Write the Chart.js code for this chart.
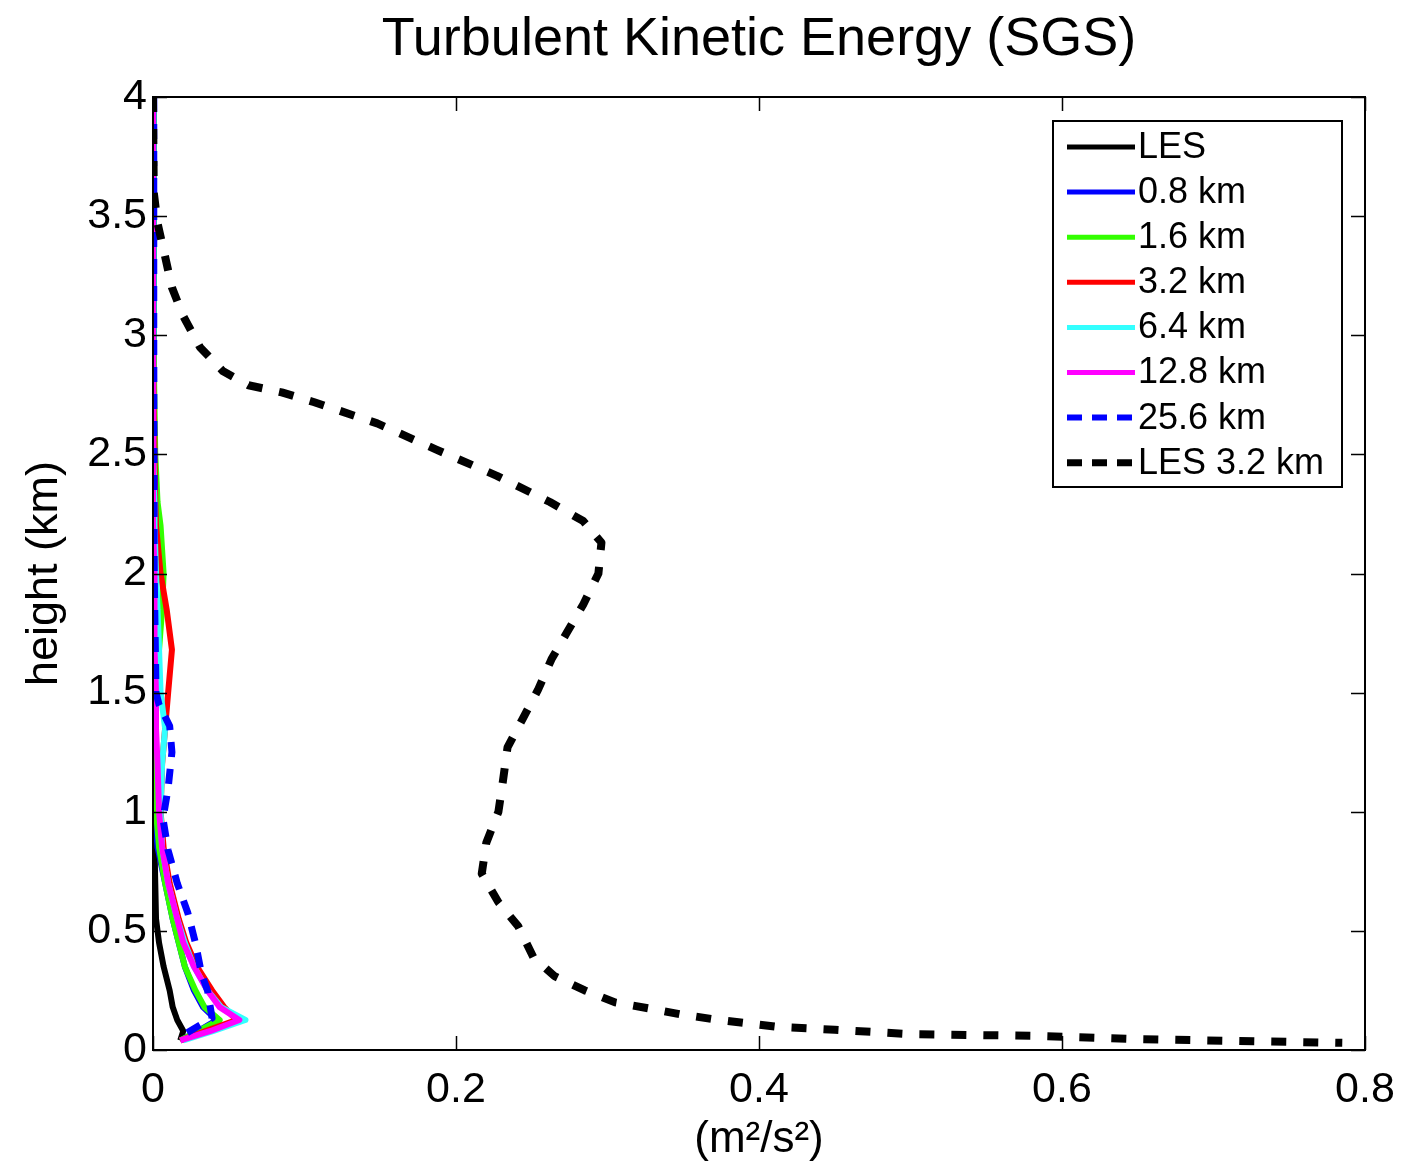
<!DOCTYPE html>
<html>
<head>
<meta charset="utf-8">
<title>Turbulent Kinetic Energy (SGS)</title>
<script src="https://cdn.jsdelivr.net/npm/chart.js@4.4.1/dist/chart.umd.min.js"></script>
<style>
  html, body { margin: 0; padding: 0; background: #fff; }
  #wrap { width: 1402px; height: 1172px; position: relative; }
</style>
</head>
<body>
<div id="wrap"><canvas id="tke-chart"></canvas></div>
<script>
// Heights (km) shared by the model runs
const modelHeights = [4.0, 3.5, 3.0, 2.5, 2.3, 2.2, 2.0, 1.85, 1.68, 1.5, 1.35, 1.2, 1.0, 0.85, 0.7, 0.55, 0.45, 0.35, 0.25, 0.18, 0.126, 0.08, 0.04];

// SGS TKE (m2/s2) at each of modelHeights
const les     = [0, 0, 0, 0, 0, 0, 0, 0, 0, 0, 0, 0, 0.0005, 0.001, 0.0015, 0.002, 0.004, 0.007, 0.011, 0.013, 0.016, 0.02, 0.018];
const km0_8   = [0.0005, 0.0005, 0.0005, 0.0005, 0.0005, 0.0005, 0.001, 0.001, 0.001, 0.001, 0.001, 0.001, 0.001, 0.003, 0.008, 0.013, 0.017, 0.021, 0.027, 0.033, 0.042, 0.03, 0.018];
const km1_6   = [0, 0, 0.0005, 0.0015, 0.003, 0.005, 0.007, 0.006, 0.004, 0.002, 0.001, 0.001, 0.002, 0.004, 0.008, 0.013, 0.017, 0.021, 0.028, 0.034, 0.044, 0.03, 0.018];
const km3_2   = [0, 0, 0, 0.001, 0.0015, 0.002, 0.005, 0.009, 0.0125, 0.010, 0.008, 0.006, 0.005, 0.007, 0.011, 0.017, 0.022, 0.029, 0.039, 0.047, 0.055, 0.035, 0.018];
const km6_4   = [0, 0, 0, 0.0005, 0.001, 0.001, 0.002, 0.003, 0.004, 0.005, 0.008, 0.006, 0.005, 0.006, 0.010, 0.016, 0.021, 0.027, 0.036, 0.045, 0.061, 0.04, 0.02];
const km12_8  = [0, 0, 0, 0, 0, 0, 0.001, 0.001, 0.001, 0.002, 0.002, 0.003, 0.004, 0.006, 0.010, 0.016, 0.020, 0.027, 0.036, 0.044, 0.057, 0.038, 0.018];

// 25.6 km run has its own levels
const km25_6Heights = [4.0, 3.0, 2.0, 1.5, 1.45, 1.36, 1.25, 1.10, 0.97, 0.84, 0.70, 0.575, 0.45, 0.32, 0.25, 0.134, 0.063, 0.04];
const km25_6        = [0.0005, 0.0005, 0.0008, 0.002, 0.004, 0.011, 0.0125, 0.010, 0.0066, 0.0099, 0.016, 0.023, 0.028, 0.032, 0.036, 0.039, 0.02, 0.018];

// LES filtered to 3.2 km
const les3_2Heights = [4.0, 3.6, 3.47, 3.33, 3.20, 3.08, 2.95, 2.85, 2.79, 2.76, 2.72, 2.63, 2.52, 2.41, 2.30, 2.22, 2.13, 2.00, 1.87, 1.75, 1.64, 1.51, 1.39, 1.27, 1.13, 1.00, 0.87, 0.74, 0.62, 0.52, 0.39, 0.31, 0.25, 0.20, 0.175, 0.15, 0.13, 0.113, 0.097, 0.085, 0.067, 0.059, 0.046, 0.038, 0.03];
const les3_2        = [0.0, 0.0005, 0.003, 0.008, 0.0125, 0.020, 0.031, 0.046, 0.063, 0.085, 0.106, 0.148, 0.187, 0.227, 0.262, 0.284, 0.296, 0.294, 0.284, 0.273, 0.263, 0.254, 0.244, 0.234, 0.231, 0.228, 0.220, 0.217, 0.228, 0.241, 0.251, 0.265, 0.285, 0.305, 0.327, 0.348, 0.369, 0.391, 0.412, 0.45, 0.498, 0.584, 0.649, 0.715, 0.785];

// Axis ticks
const xTicks = [0, 0.2, 0.4, 0.6, 0.8];
const yTicks = [0, 0.5, 1, 1.5, 2, 2.5, 3, 3.5, 4];

const chartTitle = 'Turbulent Kinetic Energy (SGS)';
const FONT = '"Liberation Sans", Arial, Helvetica, sans-serif';

function pairs(xs, ys) {
    return xs.map((v, i) => ({ x: v, y: ys[i] }));
}

function series(label, xs, ys, color, width, dash) {
    return {
        label: label,
        data: pairs(xs, ys),
        borderColor: color,
        backgroundColor: color,
        borderWidth: width,
        borderDash: dash || [],
        borderCapStyle: 'butt',
        borderJoinStyle: 'round',
        pointRadius: 0,
        tension: 0,
        fill: false
    };
}

const datasets = [
    series('LES', les, modelHeights, '#000000', 6),
    series('0.8 km', km0_8, modelHeights, '#0000ff', 6),
    series('1.6 km', km1_6, modelHeights, '#33ff00', 6),
    series('3.2 km', km3_2, modelHeights, '#ff0000', 6),
    series('6.4 km', km6_4, modelHeights, '#33ffff', 6),
    series('12.8 km', km12_8, modelHeights, '#ff00ff', 6),
    series('25.6 km', km25_6, km25_6Heights, '#0000ff', 7, [15, 12]),
    series('LES 3.2 km', les3_2, les3_2Heights, '#000000', 8, [15, 17])
];
// later series are drawn on top, like the original plot
datasets.forEach((d, i) => { d.order = datasets.length - i; });

// Title centred over the plot area
const titlePlugin = {
    id: 'plotTitle',
    afterDraw(chart) {
        const ctx = chart.ctx;
        const a = chart.chartArea;
        ctx.save();
        ctx.fillStyle = '#000';
        ctx.font = '54px ' + FONT;
        ctx.textAlign = 'center';
        ctx.textBaseline = 'middle';
        ctx.fillText(chartTitle, (a.left + a.right) / 2, 40);
        ctx.restore();
    }
};

// Box around the plot with inward ticks on all four sides
const framePlugin = {
    id: 'frame',
    afterDatasetsDraw(chart) {
        const ctx = chart.ctx;
        const a = chart.chartArea;
        const xs = chart.scales.x;
        const ys = chart.scales.y;
        const len = 14;
        ctx.save();
        ctx.strokeStyle = '#000';
        ctx.lineWidth = 2;
        ctx.strokeRect(a.left, a.top, a.right - a.left, a.bottom - a.top);
        ctx.lineWidth = 1.5;
        ctx.beginPath();
        xTicks.forEach(v => {
            const px = Math.round(xs.getPixelForValue(v)) + 0.5;
            ctx.moveTo(px, a.bottom); ctx.lineTo(px, a.bottom - len);
            ctx.moveTo(px, a.top); ctx.lineTo(px, a.top + len);
        });
        yTicks.forEach(v => {
            const py = Math.round(ys.getPixelForValue(v)) + 0.5;
            ctx.moveTo(a.left, py); ctx.lineTo(a.left + len, py);
            ctx.moveTo(a.right, py); ctx.lineTo(a.right - len, py);
        });
        ctx.stroke();
        ctx.restore();
    }
};

// Legend box in the upper right corner of the plot
const legendPlugin = {
    id: 'boxLegend',
    afterDraw(chart) {
        const ctx = chart.ctx;
        const a = chart.chartArea;
        const boxLeft = a.right - 312;
        const boxTop = a.top + 24;
        const boxW = 289;
        const rowH = 45.1;
        const boxH = 366;
        ctx.save();
        ctx.fillStyle = '#fff';
        ctx.fillRect(boxLeft, boxTop, boxW, boxH);
        ctx.strokeStyle = '#000';
        ctx.lineWidth = 2;
        ctx.strokeRect(boxLeft, boxTop, boxW, boxH);
        ctx.font = '36px ' + FONT;
        ctx.textBaseline = 'middle';
        ctx.textAlign = 'left';
        chart.data.datasets.forEach((ds, i) => {
            const cy = boxTop + 26 + i * rowH;
            ctx.beginPath();
            ctx.strokeStyle = ds.borderColor;
            ctx.lineWidth = ds.borderDash.length ? ds.borderWidth - 1 : 5;
            ctx.lineCap = 'butt';
            ctx.setLineDash(ds.borderDash.length ? [15, 10] : []);
            ctx.moveTo(boxLeft + 14, cy);
            ctx.lineTo(boxLeft + 82, cy);
            ctx.stroke();
            ctx.setLineDash([]);
            ctx.fillStyle = '#000';
            ctx.fillText(ds.label, boxLeft + 85, cy + 1);
        });
        ctx.restore();
    }
};

Chart.defaults.color = '#000';
Chart.defaults.font.family = FONT;

const ctx = document.getElementById('tke-chart').getContext('2d');
const tkeChart = new Chart(ctx, {
    type: 'line',
    data: { datasets: datasets },
    options: {
        responsive: true,
        maintainAspectRatio: false,
        animation: false,
        layout: { padding: { left: 0, right: 37, top: 97, bottom: 0 } },
        scales: {
            x: {
                type: 'linear',
                min: 0,
                max: 0.8,
                afterFit(scale) {
                    scale.height = 122;
                    scale.paddingLeft = 0;
                    scale.paddingRight = 0;
                },
                afterBuildTicks(scale) { scale.ticks = xTicks.map(v => ({ value: v })); },
                grid: { display: false, drawTicks: false },
                border: { display: false },
                ticks: {
                    padding: 14,
                    font: { size: 43 },
                    callback: v => String(v)
                },
                title: {
                    display: true,
                    text: '(m²/s²)',
                    font: { size: 44 },
                    padding: { top: 0, bottom: 6 }
                }
            },
            y: {
                type: 'linear',
                min: 0,
                max: 4,
                afterFit(scale) {
                    scale.width = 153;
                    scale.paddingTop = 0;
                    scale.paddingBottom = 0;
                },
                afterBuildTicks(scale) { scale.ticks = yTicks.map(v => ({ value: v })); },
                grid: { display: false, drawTicks: false },
                border: { display: false },
                ticks: {
                    padding: 6,
                    font: { size: 43 },
                    callback: v => String(v)
                },
                title: {
                    display: true,
                    text: 'height (km)',
                    font: { size: 45 },
                    padding: { top: 18, bottom: 0 }
                }
            }
        },
        plugins: {
            legend: { display: false },
            tooltip: { enabled: false },
            title: { display: false }
        }
    },
    plugins: [framePlugin, legendPlugin, titlePlugin]
});
</script>
</body>
</html>
